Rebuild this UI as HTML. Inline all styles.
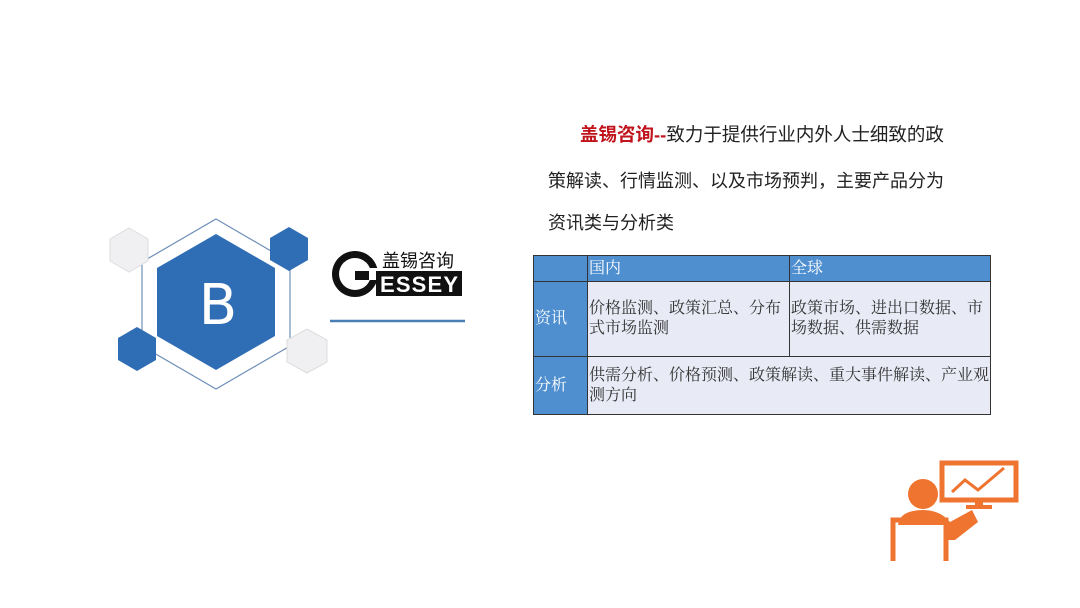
<!DOCTYPE html>
<html><head><meta charset="utf-8"><style>
body{margin:0;width:1080px;height:608px;background:#fff;position:relative;overflow:hidden;font-family:"Liberation Sans","Noto Sans CJK SC",sans-serif}
.p{position:absolute;font-size:18px;color:#222;white-space:nowrap}
table{position:absolute;left:533px;top:255px;width:458px;border-collapse:collapse;font-family:"Liberation Serif","Noto Serif CJK SC",serif;font-size:16px;line-height:20px;table-layout:fixed}
td{border:1px solid #333;padding:0 1px;vertical-align:middle;word-break:break-all}
.h{background:#4f8fd0;color:#fff}
.c{background:#e8ebf5;color:#333}
</style></head><body>
<svg width="1080" height="608" style="position:absolute;left:0;top:0">
<polygon points="216,219 290,262 290,346 216,389 142,346 142,262" fill="none" stroke="#6f8fb8" stroke-width="1.2"/>
<polygon points="216,234 275,268 275,336 216,370 157,336 157,268" fill="#2f6db4"/>
<text x="218" y="324" font-size="56" fill="#fff" text-anchor="middle" font-family="DejaVu Sans" font-weight="normal">B</text>
<polygon points="129,228 148,239 148,261 129,272 110,261 110,239" fill="#f0f0f2" stroke="#ddd"/>
<polygon points="289,227 308,238 308,260 289,271 270,260 270,238" fill="#2f6db4"/>
<polygon points="137,327 156,338 156,360 137,371 118,360 118,338" fill="#2f6db4"/>
<polygon points="307,329 327,340 327,362 307,373 287,362 287,340" fill="#f0f0f2" stroke="#ddd"/>
<circle cx="355" cy="274" r="23" fill="#111"/>
<circle cx="355" cy="274" r="16" fill="#fff"/>
<rect x="355" y="268" width="30" height="12" fill="#fff"/>
<rect x="376" y="271" width="86" height="25" fill="#111"/>
<rect x="355" y="271" width="14" height="9" fill="#111"/>
<text x="380" y="292" font-size="22" fill="#fff" font-family="Liberation Sans" font-weight="bold" textLength="78">ESSEY</text>
<text x="382" y="267" font-size="18" fill="#111" font-family="Noto Sans CJK SC">盖锡咨询</text>
<line x1="330" y1="321" x2="465" y2="321" stroke="#4a7fb5" stroke-width="2.5"/>
<g fill="#ef7430" stroke="#ef7430">
<rect x="942" y="463" width="74" height="37" fill="none" stroke-width="5"/>
<rect x="975" y="500" width="8" height="5" stroke="none"/>
<rect x="966" y="505" width="26" height="4" stroke="none"/>
<polyline points="952,492 965,480 978,490 1004,468" fill="none" stroke-width="3"/>
<circle cx="923" cy="494" r="15" stroke="none"/>
<path d="M898,525 Q900,510 923,510 Q940,510 950,522 L972,510 L978,522 L955,540 L945,540 L945,525 Z" stroke="none"/>
<path d="M893,561 L893,520 L946,520 L946,561" fill="none" stroke-width="5"/>
</g>
</svg>
<div class="p" style="left:580px;top:121px;font-size:18.5px"><b style="color:#c0141c">盖锡咨询--</b>致力于提供行业内外人士细致的政</div>
<div class="p" style="left:548px;top:167px">策解读、行情监测、以及市场预判，主要产品分为</div>
<div class="p" style="left:548px;top:209px">资讯类与分析类</div>
<table>
<colgroup><col style="width:54px"><col style="width:202px"><col></colgroup>
<tr style="height:26px"><td class="h"></td><td class="h">国内</td><td class="h">全球</td></tr>
<tr style="height:75px"><td class="h">资讯</td><td class="c">价格监测、政策汇总、分布式市场监测</td><td class="c">政策市场、进出口数据、市场数据、供需数据</td></tr>
<tr style="height:58px"><td class="h">分析</td><td class="c" colspan="2">供需分析、价格预测、政策解读、重大事件解读、产业观测方向</td></tr>
</table>
</body></html>
